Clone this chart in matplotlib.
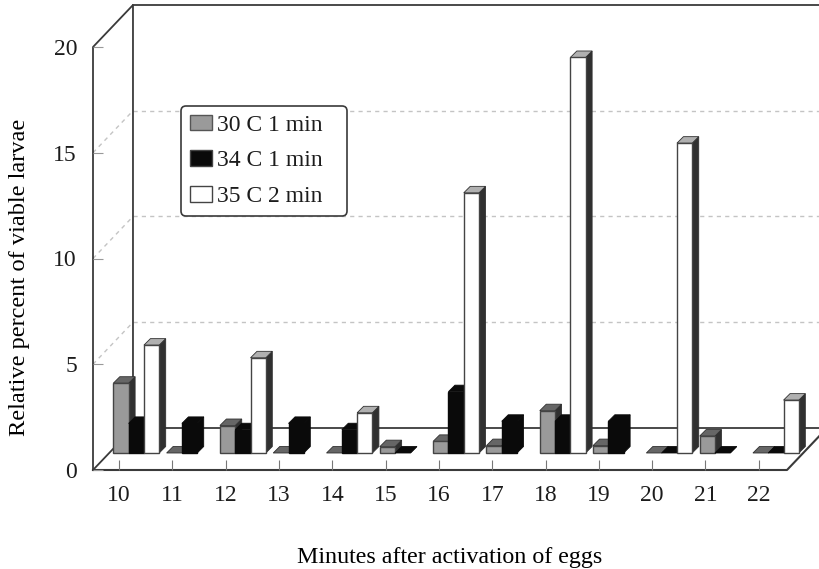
#!/usr/bin/env python3
# -*- coding: utf-8 -*-

import matplotlib
matplotlib.use('Agg')
import matplotlib.pyplot as plt
from matplotlib.patches import Patch, Polygon

minutes = [10, 11, 12, 13, 14, 15, 16, 17, 18, 19, 20, 21, 22]
c30_1min = [3.3, 0, 1.3, 0, 0, 0.3, 0.55, 0.35, 2.0, 0.35, 0, 0.8, 0]
c34_1min = [1.4, 1.4, 1.1, 1.4, 1.1, 0, 2.9, 1.5, 1.5, 1.5, 0, 0, 0]
c35_2min = [5.1, 0, 4.5, 0, 1.9, 0, 12.3, 0, 18.7, 0, 14.65, 0, 2.5]
y_ticks = [0, 5, 10, 15, 20]
labels = ['30 C 1 min', '34 C 1 min', '35 C 2 min']

LINE = '#3a3a3a'
GRID = '#c4c4c4'
TEXT = '#1c1c1c'
# front, top, side
GRAY_BAR = ('#9a9a9a', '#666666', '#303030')
BLACK_BAR = ('#0a0a0a', '#0a0a0a', '#0a0a0a')
WHITE_BAR = ('#ffffff', '#b0b0b0', '#303030')

# 1 category = 53.33 px, 1 percent = 21.15 px
wall_dx = 40 / 53.33
wall_dy = 42 / 21.15
bar_dx = 6.5 / 53.33
bar_dy = 6.5 / 21.15
bar_w = 15.3 / 53.33
bar_start = -5.8 / 53.33
bar_base = 17 / 21.15

plt.rcParams['font.family'] = 'Liberation Serif'
plt.rcParams['text.color'] = TEXT
fig = plt.figure(figsize=(8.19, 5.69), dpi=100)
ax = fig.add_axes([93 / 819, 99 / 569, 694 / 819, 423 / 569])
ax.set_xlim(9.51, 22.53)
ax.set_ylim(0, 20)
for s in ax.spines.values():
    s.set_visible(False)

x0, x1 = ax.get_xlim()


def line(xs, ys, color=LINE, lw=1.3, ls='-', z=1):
    ax.plot(xs, ys, color=color, lw=lw, ls=ls, zorder=z, clip_on=False)


# dashed grid on back and side wall
for v in y_ticks[1:-1]:
    line([x0 + wall_dx, x1 + 2], [v + wall_dy, v + wall_dy], GRID, 1, (0, (3, 3)))
    line([x0, x0 + wall_dx], [v, v + wall_dy], GRID, 1, (0, (3, 3)))

# box frame
line([x0, x0, x0 + wall_dx, x0 + wall_dx], [0, 20, 20 + wall_dy, wall_dy])
line([x0 + wall_dx, x1 + 2], [20 + wall_dy, 20 + wall_dy])
line([x0 + wall_dx, x1 + 2], [wall_dy, wall_dy])
line([x0, x0 + wall_dx], [0, wall_dy])
line([x0, x1, x1 + wall_dx], [0, 0, wall_dy], lw=1.5)


def draw_bar(left, val, colors, z):
    front, top, side = colors
    b = bar_base
    r = left + bar_w
    h = b + val
    ax.add_patch(Polygon([(r, b), (r + bar_dx, b + bar_dy), (r + bar_dx, h + bar_dy), (r, h)],
                         fc=side, ec=side, lw=0.6, zorder=z, clip_on=False))
    ax.add_patch(Polygon([(left, h), (left + bar_dx, h + bar_dy), (r + bar_dx, h + bar_dy), (r, h)],
                         fc=top, ec=side, lw=0.6, zorder=z, clip_on=False))
    if val > 0:
        edge = '#444444' if front != BLACK_BAR[0] else front
        ax.add_patch(Polygon([(left, b), (r, b), (r, h), (left, h)],
                             fc=front, ec=edge, lw=1, zorder=z, clip_on=False))


z = 3
for i, m in enumerate(minutes):
    start = m + bar_start
    draw_bar(start, c30_1min[i], GRAY_BAR, z)
    draw_bar(start + bar_w, c34_1min[i], BLACK_BAR, z + 0.1)
    # no white bar is drawn for the empty ones
    if c35_2min[i] > 0:
        draw_bar(start + 2 * bar_w, c35_2min[i], WHITE_BAR, z + 0.2)

ax.set_xticks(minutes)
ax.set_yticks(y_ticks)
ax.tick_params(axis='x', direction='in', length=7, width=0.8, color='#777777', labelsize=17, pad=11,
               labelcolor=TEXT)
ax.tick_params(axis='y', direction='in', length=7, width=0.8, color='#999999', labelsize=17, pad=11.5,
               labelcolor=TEXT)
ax.set_ylabel('Relative percent of viable larvae', fontsize=17.6)
ax.yaxis.set_label_coords(-63 / 694, 193 / 423)
ax.set_xlabel('Minutes after activation of eggs', fontsize=17.3)
ax.xaxis.set_label_coords(357 / 694, -77 / 423)

handles = [Patch(fc=GRAY_BAR[0], ec='#555555'), Patch(fc='#0a0a0a', ec='#444444'), Patch(fc='white', ec='#444444')]
leg = ax.legend(handles, labels, loc='upper left', bbox_to_anchor=(88 / 694, 256 / 423, 166 / 694, 108 / 423),
                mode='expand', borderaxespad=0, fontsize=17, labelspacing=0.62, handlelength=0.95,
                handleheight=0.65, handletextpad=0.2, borderpad=0.36, fancybox=True, edgecolor=LINE,
                framealpha=1)
leg.get_frame().set_linewidth(1.2)
leg.set_zorder(10)

plt.savefig('out.png', dpi=100)
